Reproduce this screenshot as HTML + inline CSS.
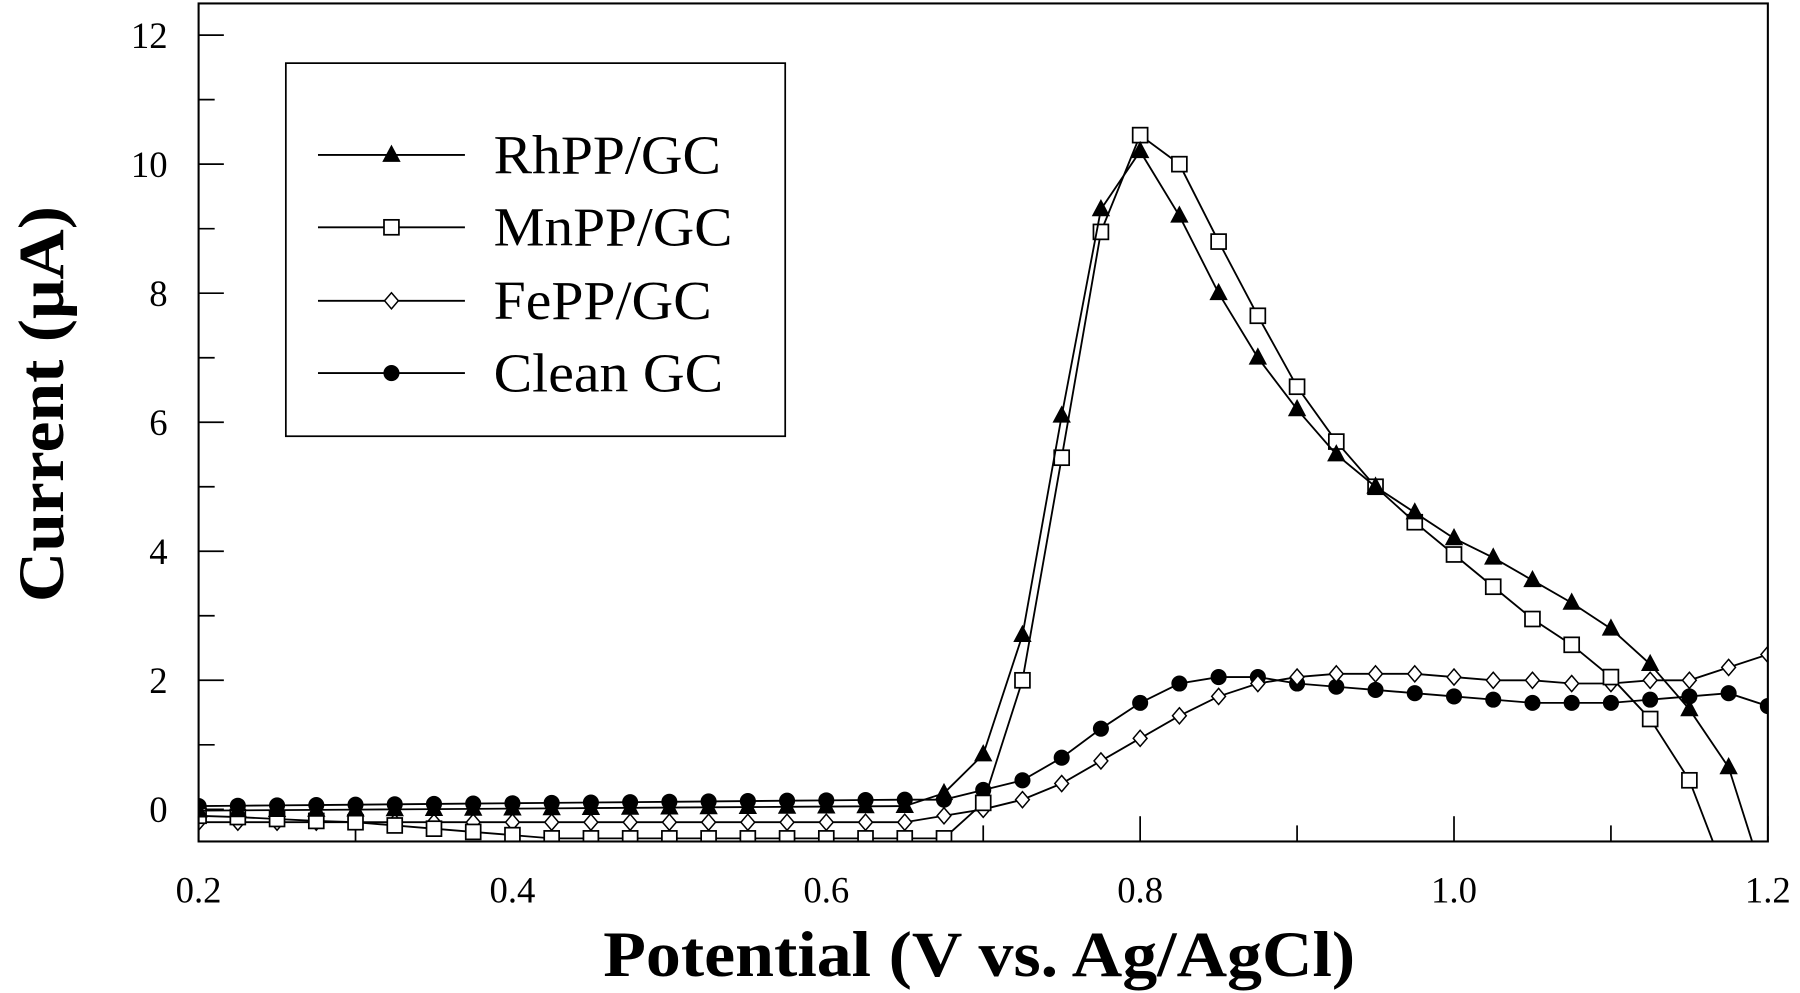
<!DOCTYPE html>
<html><head><meta charset="utf-8"><style>
html,body{margin:0;padding:0;background:#fff;}
svg{display:block;}
text{font-family:"Liberation Serif",serif;fill:#000;}
</style></head><body>
<svg id="s" width="1800" height="993" viewBox="0 0 1568 865" preserveAspectRatio="none" xmlns="http://www.w3.org/2000/svg">
<rect x="0" y="0" width="1568" height="865" fill="#fff"/>
<g id="axes"></g>
<g id="data"></g>
<rect x="173" y="3" width="1367" height="730" fill="none" stroke="#000" stroke-width="1.8"/>
<rect x="249" y="55" width="435" height="325" fill="#fff" stroke="#000" stroke-width="1.5"/>
<g id="leg"></g>
<text x="430" y="151" font-size="48" textLength="198" lengthAdjust="spacingAndGlyphs">RhPP/GC</text>
<text x="430" y="214" font-size="48" textLength="208" lengthAdjust="spacingAndGlyphs">MnPP/GC</text>
<text x="430" y="278" font-size="48" textLength="190" lengthAdjust="spacingAndGlyphs">FePP/GC</text>
<text x="430" y="341" font-size="48" textLength="200" lengthAdjust="spacingAndGlyphs">Clean GC</text>
<text x="853" y="850" font-size="56" font-weight="bold" text-anchor="middle" textLength="655" lengthAdjust="spacingAndGlyphs">Potential (V vs. Ag/AgCl)</text>
<text transform="translate(55,352) rotate(-90)" font-size="56" font-weight="bold" text-anchor="middle" textLength="345" lengthAdjust="spacingAndGlyphs">Current (μA)</text>
</svg>
<script>
const NS="http://www.w3.org/2000/svg";
const X=v=>173+(v-0.2)*1367, Y=c=>705-c*56.2;
function el(p,t,a){const e=document.createElementNS(NS,t);for(const k in a)e.setAttribute(k,a[k]);p.appendChild(e);return e;}
const ax=document.getElementById('axes');
for(let i=0;i<=10;i++){const v=0.2+i*0.1,x=X(v),L=i%2==0?22:14;el(ax,'line',{x1:x,y1:733,x2:x,y2:733-L,stroke:'#000','stroke-width':1.5});
 if(i%2==0){const t=el(ax,'text',{x:x,y:786,'font-size':32,'text-anchor':'middle'});t.textContent=v.toFixed(1);}}
for(let c=0;c<=12;c++){const y=Y(c),L=c%2==0?22:14;el(ax,'line',{x1:173,y1:y,x2:173+L,y2:y,stroke:'#000','stroke-width':1.5});
 if(c%2==0){const t=el(ax,'text',{x:146,y:y+11,'font-size':32,'text-anchor':'end'});t.textContent=c;}}
function base(a,b){const r=[];for(let v=0.2;v<0.66;v+=0.025)r.push([v,a+(b-a)*(v-0.2)/0.45]);return r;}
const rh=base(-0.02,0.05).concat([[0.675,0.25],[0.7,0.85],[0.725,2.7],[0.75,6.1],[0.775,9.3],[0.8,10.2],[0.825,9.2],[0.85,8.0],[0.875,7.0],[0.9,6.2],[0.925,5.5],[0.95,5.0],[0.975,4.6],[1.0,4.2],[1.025,3.9],[1.05,3.55],[1.075,3.2],[1.1,2.8],[1.125,2.25],[1.15,1.55],[1.175,0.65],[1.19,-0.5]]);
const mnb=[[0.2,-0.1],[0.225,-0.12],[0.25,-0.15],[0.275,-0.18],[0.3,-0.2],[0.325,-0.25],[0.35,-0.3],[0.375,-0.35],[0.4,-0.4],[0.425,-0.45],[0.45,-0.45],[0.475,-0.45],[0.5,-0.45],[0.525,-0.45],[0.55,-0.45],[0.575,-0.45],[0.6,-0.45],[0.625,-0.45],[0.65,-0.45]];
const mn=mnb.concat([[0.675,-0.45],[0.7,0.1],[0.725,2.0],[0.75,5.45],[0.775,8.95],[0.8,10.45],[0.825,10.0],[0.85,8.8],[0.875,7.65],[0.9,6.55],[0.925,5.7],[0.95,5.0],[0.975,4.45],[1.0,3.95],[1.025,3.45],[1.05,2.95],[1.075,2.55],[1.1,2.05],[1.125,1.4],[1.15,0.45],[1.165,-0.5]]);
const fe=base(-0.2,-0.2).concat([[0.675,-0.1],[0.7,0.0],[0.725,0.15],[0.75,0.4],[0.775,0.75],[0.8,1.1],[0.825,1.45],[0.85,1.75],[0.875,1.95],[0.9,2.05],[0.925,2.1],[0.95,2.1],[0.975,2.1],[1.0,2.05],[1.025,2.0],[1.05,2.0],[1.075,1.95],[1.1,1.95],[1.125,2.0],[1.15,2.0],[1.175,2.2],[1.2,2.4]]);
const cl=base(0.05,0.15).concat([[0.675,0.15],[0.7,0.3],[0.725,0.45],[0.75,0.8],[0.775,1.25],[0.8,1.65],[0.825,1.95],[0.85,2.05],[0.875,2.05],[0.9,1.95],[0.925,1.9],[0.95,1.85],[0.975,1.8],[1.0,1.75],[1.025,1.7],[1.05,1.65],[1.075,1.65],[1.1,1.65],[1.125,1.7],[1.15,1.75],[1.175,1.8],[1.2,1.6]]);
function mark(g,type,x,y){
 if(type=='tri')el(g,'polygon',{points:`${x},${y-9} ${x-8},${y+6} ${x+8},${y+6}`,fill:'#000'});
 else if(type=='sq')el(g,'rect',{x:x-6.5,y:y-6.5,width:13,height:13,fill:'#fff',stroke:'#000','stroke-width':1.5});
 else if(type=='di')el(g,'polygon',{points:`${x},${y-7} ${x+6},${y} ${x},${y+7} ${x-6},${y}`,fill:'#fff',stroke:'#000','stroke-width':1.3});
 else el(g,'circle',{cx:x,cy:y,r:7,fill:'#000'});
}
const d=document.getElementById('data');
el(document.getElementById('s').insertBefore(document.createElementNS(NS,'defs'),d),'clipPath',{id:'cp'});
el(document.querySelector('#cp'),'rect',{x:173,y:3,width:1367,height:730});
d.setAttribute('clip-path','url(#cp)');
[[cl,'ci'],[fe,'di'],[mn,'sq'],[rh,'tri']].forEach(([s,t])=>{
 el(d,'polyline',{points:s.map(p=>X(p[0])+','+Y(p[1])).join(' '),fill:'none',stroke:'#000','stroke-width':1.6});
 s.forEach(p=>{if(p[1]>-0.48)mark(d,t,X(p[0]),Y(p[1]));});
});
const lg=document.getElementById('leg');
[[135,'tri'],[198,'sq'],[262,'di'],[325,'ci']].forEach(([y,t])=>{
 el(lg,'line',{x1:277,y1:y,x2:405,y2:y,stroke:'#000','stroke-width':1.6});mark(lg,t,341,y);});
</script>
</body></html>
